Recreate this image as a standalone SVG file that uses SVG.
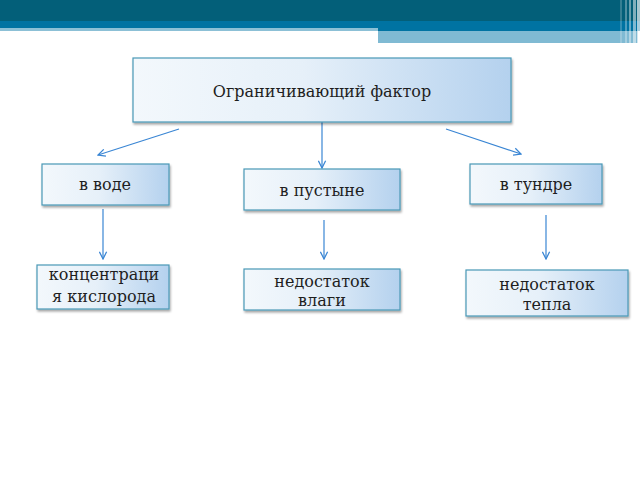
<svg xmlns="http://www.w3.org/2000/svg" width="640" height="480" viewBox="0 0 640 480">
<defs>
<linearGradient id="g" x1="0" y1="0" x2="1" y2="0">
<stop offset="0" stop-color="#f3f8fc"/>
<stop offset="0.45" stop-color="#e6f0f9"/>
<stop offset="1" stop-color="#b4d1ee"/>
</linearGradient>
<filter id="sh" x="-10%" y="-10%" width="120%" height="130%">
<feDropShadow dx="1" dy="2" stdDeviation="1.2" flood-color="#000" flood-opacity="0.35"/>
</filter>
<marker id="ah" viewBox="0 0 10 10" refX="9" refY="5" markerWidth="9" markerHeight="9" markerUnits="userSpaceOnUse" orient="auto">
<path d="M1,1 L9,5 L1,9" fill="none" stroke="#3a86d4" stroke-width="1.4"/>
</marker>
<style>
.box{fill:url(#g);stroke:#4a98b6;stroke-width:1.2;filter:url(#sh)}
.t{font-family:"DejaVu Serif","Liberation Serif",serif;font-size:16px;fill:#1e1e1e;text-anchor:middle}
.c{stroke:#3a86d4;stroke-width:1.2;fill:none;marker-end:url(#ah)}
</style>
</defs>
<g id="header">
<rect x="0" y="0" width="640" height="22" fill="#035f79"/>
<rect x="0" y="21" width="640" height="10" fill="#0073a2"/>
<rect x="0" y="28" width="378" height="3" fill="#8cc0d6"/>
<rect x="378" y="31" width="260" height="12" fill="#80bad3"/>
<rect x="620" y="0" width="2" height="43" fill="#ffffff" opacity="0.2"/>
<rect x="625" y="0" width="2" height="43" fill="#ffffff" opacity="0.3"/>
<rect x="629" y="0" width="2" height="43" fill="#ffffff" opacity="0.4"/>
<rect x="633" y="0" width="3" height="43" fill="#ffffff" opacity="0.5"/>
<rect x="637" y="0" width="3" height="45" fill="#ffffff" opacity="0.65"/>
</g>
<g id="connectors">
<line class="c" x1="179" y1="129" x2="98" y2="155"/>
<line class="c" x1="322" y1="122" x2="322" y2="168"/>
<line class="c" x1="446" y1="129" x2="521" y2="154"/>
<line class="c" x1="103" y1="209" x2="103" y2="259"/>
<line class="c" x1="324" y1="220" x2="324" y2="259"/>
<line class="c" x1="546" y1="215" x2="546" y2="259"/>
</g>
<g id="n-root">
<rect class="box" x="133" y="58" width="378" height="64"/>
<text class="t" x="322" y="97">Ограничивающий фактор</text>
</g>
<g id="n-water">
<rect class="box" x="42" y="164" width="127" height="41"/>
<text class="t" x="105" y="190">в воде</text>
</g>
<g id="n-desert">
<rect class="box" x="244" y="169" width="156" height="41"/>
<text class="t" x="322" y="196">в пустыне</text>
</g>
<g id="n-tundra">
<rect class="box" x="470" y="164" width="132" height="40"/>
<text class="t" x="536" y="190">в тундре</text>
</g>
<g id="n-oxygen">
<rect class="box" x="37" y="265" width="132" height="44"/>
<text class="t" x="104" y="280">концентраци</text>
<text class="t" x="104" y="302">я кислорода</text>
</g>
<g id="n-moisture">
<rect class="box" x="244" y="269" width="156" height="41"/>
<text class="t" x="322" y="287">недостаток</text>
<text class="t" x="322" y="306">влаги</text>
</g>
<g id="n-heat">
<rect class="box" x="466" y="270" width="162" height="46"/>
<text class="t" x="547" y="290">недостаток</text>
<text class="t" x="547" y="310">тепла</text>
</g>
</svg>
